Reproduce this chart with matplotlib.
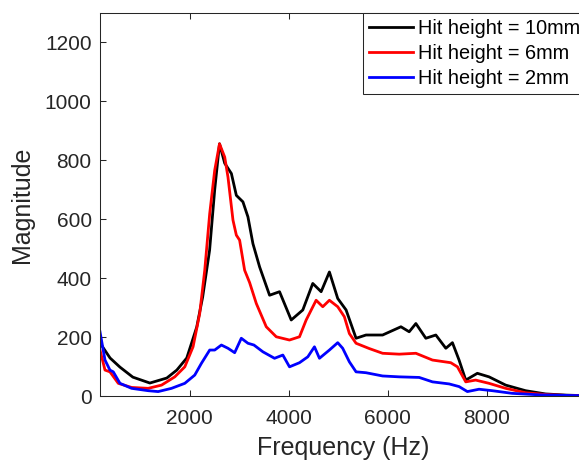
import matplotlib
matplotlib.use('Agg')
import matplotlib.pyplot as plt

plt.rcParams['font.family'] = ['Liberation Sans', 'DejaVu Sans']

# values (Hz, magnitude)
freq_10mm = [187, 390, 590, 850, 1194, 1536, 1738, 1939, 2140, 2260, 2400, 2503, 2600,
             2705, 2840, 2940, 3073, 3174, 3275, 3410, 3611, 3812, 4048, 4282, 4483,
             4652, 4819, 4987, 5156, 5357, 5558, 5893, 6263, 6430, 6565, 6766, 6968,
             7170, 7303, 7437, 7572, 7806, 8042, 8378, 8780, 9183, 9600, 10000]
mag_10mm = [180, 129, 98, 64, 44, 61, 88, 129, 234, 336, 495, 700, 856,
            790, 755, 681, 659, 608, 517, 438, 342, 354, 258, 292, 382,
            354, 421, 331, 292, 196, 207, 207, 235, 218, 246, 196, 207,
            162, 181, 122, 54, 77, 65, 37, 18, 7, 3, 1]

freq_6mm = [187, 288, 388, 556, 825, 1160, 1430, 1697, 1899, 2066, 2200, 2302, 2402,
            2503, 2600, 2705, 2771, 2872, 2940, 3006, 3107, 3208, 3343, 3544, 3746,
            4013, 4215, 4350, 4551, 4685, 4819, 4987, 5121, 5222, 5357, 5625, 5893,
            6229, 6565, 6900, 7270, 7404, 7572, 7772, 8042, 8378, 8780, 9183, 9600, 10000]
mag_6mm = [156, 88, 82, 43, 29, 26, 37, 65, 99, 167, 280, 427, 619,
           766, 856, 811, 743, 597, 546, 529, 427, 385, 314, 235, 201,
           190, 201, 258, 325, 303, 325, 303, 269, 212, 179, 161, 145,
           142, 145, 122, 113, 99, 48, 54, 43, 26, 11, 5, 2, 1]

freq_2mm = [187, 288, 388, 455, 590, 825, 1160, 1361, 1631, 1899, 2100, 2235, 2402,
            2503, 2638, 2771, 2906, 3040, 3174, 3295, 3476, 3711, 3879, 4013, 4215,
            4383, 4517, 4618, 4819, 4987, 5087, 5222, 5357, 5558, 5893, 6229, 6632,
            6900, 7236, 7437, 7605, 7840, 8108, 8510, 9049, 9600, 10000]
mag_2mm = [218, 122, 88, 82, 43, 26, 18, 15, 26, 43, 71, 111, 156,
           156, 173, 162, 147, 196, 179, 173, 150, 128, 139, 99, 113,
           133, 167, 128, 156, 181, 162, 116, 82, 79, 68, 65, 63,
           48, 41, 32, 15, 23, 18, 9, 4, 2, 1]

labels = ['Hit height = 10mm', 'Hit height = 6mm', 'Hit height = 2mm']
x_ticks = [2000, 4000, 6000, 8000]
y_ticks = [0, 200, 400, 600, 800, 1000, 1200]

txt = '#262626'
fig = plt.figure(figsize=(5.79, 4.63), dpi=100)
ax = fig.add_axes([100 / 579, 1 - 396 / 463, 486 / 579, 383 / 463])

ax.plot(freq_10mm, mag_10mm, color='black', lw=2, label=labels[0])
ax.plot(freq_6mm, mag_6mm, color='red', lw=2, label=labels[1])
ax.plot(freq_2mm, mag_2mm, color='blue', lw=2, label=labels[2])

ax.set_xlim(187, 10000)
ax.set_ylim(0, 1300)
ax.set_xticks(x_ticks)
ax.set_yticks(y_ticks)
ax.tick_params(direction='in', top=True, right=True, length=4, width=0.75,
               colors=txt, labelsize=15)
ax.tick_params(axis='x', pad=9)
ax.tick_params(axis='y', pad=6)
for s in ax.spines.values():
    s.set_color(txt)
    s.set_linewidth(0.75)

ax.set_xlabel('Frequency (Hz)', fontsize=18, color=txt, labelpad=6)
ax.set_ylabel('Magnitude', fontsize=18, color=txt, labelpad=8)

leg = ax.legend(loc='upper left', bbox_to_anchor=(363 / 579, 1 - 13 / 463),
                bbox_transform=fig.transFigure, borderaxespad=0, fontsize=14.3,
                fancybox=False, framealpha=1, edgecolor=txt, handlelength=2.2,
                handletextpad=0.25, labelspacing=0.3, borderpad=0.3)
leg.get_frame().set_linewidth(0.75)

fig.savefig('out.png', dpi=100)
